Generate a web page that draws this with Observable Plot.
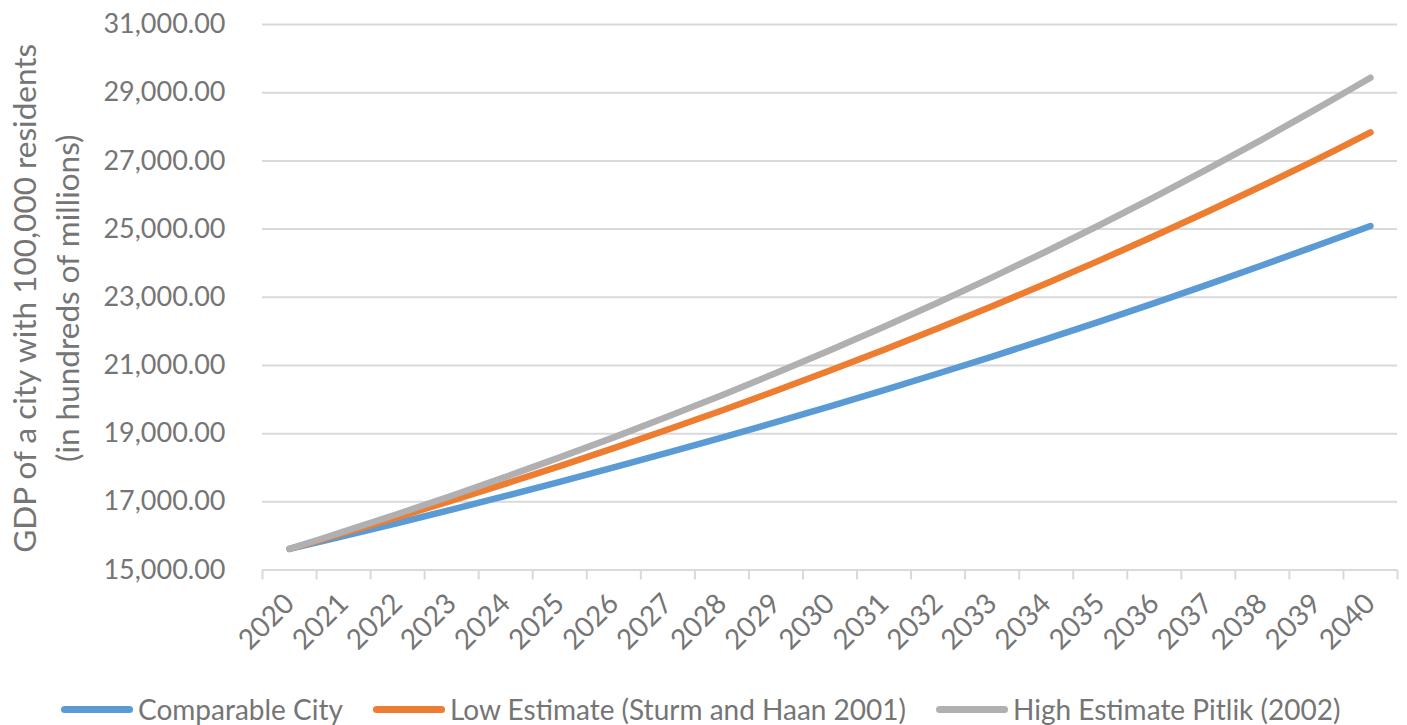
<!DOCTYPE html>
<html><head><meta charset="utf-8">
<script src="https://cdn.jsdelivr.net/npm/d3@7"></script>
<script src="https://cdn.jsdelivr.net/npm/@observablehq/plot@0.6"></script>
<style>
html,body{margin:0;padding:0;background:#fff;}
body{font-family:Lato,"Open Sans",sans-serif;width:1407px;height:725px;overflow:hidden;}
#legend{display:flex;align-items:center;height:32px;padding-left:61px;color:#757575;font-size:28px;}
#legend .item{display:flex;align-items:center;margin-right:30px;}
#legend .sw{display:inline-block;width:72px;height:7px;border-radius:4px;margin-right:5px;}
</style></head><body>
<div id="chart"></div>
<div id="legend"></div>
<script>
const years = [2020,2021,2022,2023,2024,2025,2026,2027,2028,2029,2030,2031,2032,2033,2034,2035,2036,2037,2038,2039,2040];
const comparableCity = [15620,15995,16379,16772,17174,17587,18009,18441,18883,19337,19801,20276,20763,21261,21771,22294,22829,23377,23938,24512,25090];
const lowEstimate = [15620,16078,16549,17034,17533,18046,18575,19120,19680,20256,20850,21461,22090,22737,23403,24089,24794,25521,26269,27038,27835];
const highEstimate = [15620,16123,16642,17178,17731,18302,18891,19500,20128,20776,21445,22135,22848,23584,24343,25127,25936,26771,27633,28523,29438];
const seriesNames = ["Comparable City","Low Estimate (Sturm and Haan 2001)","High Estimate Pitlik (2002)"];
const seriesColors = ["#5b9bd5","#ed7d31","#b0b0b2"];
const yTicks = [15000,17000,19000,21000,23000,25000,27000,29000,31000];
const yTitle = ["GDP of a city with 100,000 residents","(in hundreds of millions)"];

const seriesValues = [comparableCity, lowEstimate, highEstimate];
const data = seriesNames.flatMap((name, s) => years.map((yr, i) => ({year: yr, value: seriesValues[s][i], series: name})));
const boundaries = years.map(y => y - 0.5).concat([years[years.length-1] + 0.5]);
const textColor = "#757575";
const gridColor = "#d9d9d9";

const chart = Plot.plot({
  width: 1407,
  height: 693,
  marginLeft: 262,
  marginRight: 10,
  marginTop: 24,
  marginBottom: 123.5,
  style: {fontFamily: "Lato, 'Open Sans', sans-serif", fontSize: "27px", color: textColor, background: "#fff", overflow: "visible"},
  x: {type: "linear", domain: [years[0] - 0.5, years[years.length-1] + 0.5], label: null},
  y: {domain: [yTicks[0], yTicks[yTicks.length-1]], label: null},
  color: {domain: seriesNames, range: seriesColors},
  marks: [
    Plot.gridY(yTicks, {stroke: gridColor, strokeOpacity: 1, strokeWidth: 2}),
    Plot.ruleY([yTicks[0]], {stroke: gridColor, strokeWidth: 2}),
    Plot.axisX({ticks: boundaries, tickSize: 10, stroke: gridColor, strokeWidth: 2, strokeOpacity: 1, tickFormat: () => "", label: null}),
    Plot.axisX({ticks: years, tickSize: 0, tickPadding: 29, tickRotate: -45, tickFormat: d => String(d), fill: textColor, fontSize: 28, label: null}),
    Plot.axisY({ticks: yTicks, tickSize: 0, tickPadding: 37, tickFormat: d3.format(",.2f"), fill: textColor, label: null}),
    Plot.text([yTitle[0]], {text: d => d, frameAnchor: "left", textAnchor: "middle", lineAnchor: "middle", rotate: -90, dx: -237, dy: 1, fill: textColor, fontSize: 31.5}),
    Plot.text([yTitle[1]], {text: d => d, frameAnchor: "left", textAnchor: "middle", lineAnchor: "middle", rotate: -90, dx: -194, dy: 1, fill: textColor, fontSize: 31.5}),
    Plot.line(data, {x: "year", y: "value", z: "series", stroke: "series", strokeWidth: 6.5, curve: "catmull-rom", strokeLinecap: "round", strokeLinejoin: "round"})
  ]
});
document.getElementById("chart").appendChild(chart);

const legend = document.getElementById("legend");
seriesNames.forEach((name, i) => {
  const item = document.createElement("div");
  item.className = "item";
  const sw = document.createElement("span");
  sw.className = "sw";
  sw.style.background = seriesColors[i];
  const label = document.createElement("span");
  label.textContent = name;
  item.appendChild(sw);
  item.appendChild(label);
  legend.appendChild(item);
});
</script>
</body></html>
